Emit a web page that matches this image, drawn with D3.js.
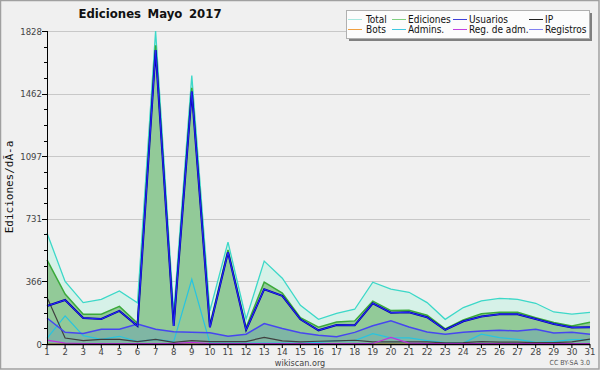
<!DOCTYPE html>
<html><head><meta charset="utf-8">
<script src="https://cdn.jsdelivr.net/npm/d3@7"></script>
<style>body{margin:0;background:#fff}svg{display:block}</style>
</head><body>
<svg id="c" width="600" height="370"></svg>
<script>
const days = d3.range(1, 32);
const total     = [648,365,242,261,310,240,1828,185,1568,193,595,146,484,384,226,144,179,203,361,320,302,242,144,213,252,267,261,238,187,174,185];
const ediciones = [491,292,174,174,220,121,1744,115,1496,112,550,96,361,297,154,98,129,135,250,195,197,168,88,140,176,185,185,154,125,105,127];
const usuarios  = [222,257,152,146,193,105,1716,105,1474,98,536,82,320,281,144,80,111,109,238,183,185,156,82,133,160,174,174,146,117,96,98];
const ip        = [273,35,20,27,27,14,27,10,20,14,14,14,39,18,12,16,18,22,12,12,12,12,6,8,14,11,11,8,8,12,29];
const bots      = [0,0,0,0,0,0,0,0,0,0,0,0,0,0,0,0,0,0,0,0,0,0,0,0,0,0,0,0,0,0,0];
const admins    = [33,164,49,27,45,14,27,14,378,5,5,5,5,5,5,10,20,20,60,36,36,20,8,5,57,37,27,10,14,25,25];
const regAdm    = [23,5,3,3,3,2,3,2,10,2,2,2,3,2,2,2,3,3,3,39,5,3,2,2,2,2,2,2,2,2,3];
const registros = [152,68,62,86,86,117,86,72,68,66,45,57,119,90,66,51,43,68,107,135,99,70,57,68,76,80,76,86,64,68,57];
const yMax = 1828;
const legendLabels = [["Total","Ediciones","Usuarios","IP"],["Bots","Admins.","Reg. de adm.","Registros"]];
const legendColors = [["#a8e8e0","#80d080","#4040d8","#202020"],["#f0a040","#40c8e0","#c040e0","#8080f0"]];

const FONT = "'DejaVu Sans Condensed', 'DejaVu Sans', sans-serif";
const svg = d3.select("#c");
svg.append("rect").attr("x",0.5).attr("y",0.5).attr("width",598.5).attr("height",368.5)
  .attr("fill","#f0f0f0").attr("stroke","#a0a0a0").attr("stroke-width",1.5);

const x = d3.scaleLinear().domain([1,31]).range([47,590]);
const y = d3.scaleLinear().domain([0,yMax]).range([344,31]);

// grid
const majors = d3.range(0,6).map(i => i*yMax/5);
const minors = d3.range(0,21).map(i => i*yMax/20);
svg.append("g").selectAll("line").data(majors.slice(1)).join("line")
  .attr("x1",x(1)).attr("x2",x(31)).attr("y1",d=>Math.round(y(d))+0.5).attr("y2",d=>Math.round(y(d))+0.5)
  .attr("stroke","#c8c8c8").attr("stroke-width",1);

const area = (arr) => d3.area().x((d,i)=>x(days[i])).y0(y(0)).y1((d)=>y(d))(arr);
const line = (arr) => d3.line().x((d,i)=>x(days[i])).y(d=>y(d))(arr);

svg.append("path").attr("d",area(total)).attr("fill","#d6f1e8");
svg.append("path").attr("d",area(ediciones)).attr("fill","#92ca98");
svg.append("path").attr("d",area(registros)).attr("fill","#7fb6a4");

svg.append("path").attr("d",line(total)).attr("fill","none").attr("stroke","#3cd8c8").attr("stroke-width",1.3);
svg.append("path").attr("d",line(ediciones)).attr("fill","none").attr("stroke","#3aaa3a").attr("stroke-width",1.5);
svg.append("path").attr("d",line(admins)).attr("fill","none").attr("stroke","#28c4e0").attr("stroke-width",1.2);
svg.append("path").attr("d",line(bots)).attr("fill","none").attr("stroke","#f0a040").attr("stroke-width",1);
svg.append("path").attr("d",line(ip)).attr("fill","none").attr("stroke","#404040").attr("stroke-width",1.2);
svg.append("path").attr("d",line(regAdm)).attr("fill","none").attr("stroke","#c030e0").attr("stroke-width",1.2);
svg.append("path").attr("d",line(registros)).attr("fill","none").attr("stroke","#4646f0").attr("stroke-width",1.5);
svg.append("path").attr("d",line(usuarios)).attr("fill","none").attr("stroke","#0000a0").attr("stroke-width",2);
svg.append("path").attr("d",line(usuarios)).attr("fill","none").attr("stroke","#2828ff").attr("stroke-width",1);

// y axis
const ya = svg.append("g").attr("transform","translate(47,0)");
ya.append("line").attr("x1",0.5).attr("x2",0.5).attr("y1",y(yMax)).attr("y2",y(0)).attr("stroke","#000");
ya.selectAll("line.mi").data(minors).join("line").attr("class","mi")
  .attr("x1",-3).attr("x2",0).attr("y1",d=>Math.round(y(d))+0.5).attr("y2",d=>Math.round(y(d))+0.5).attr("stroke","#000");
ya.selectAll("line.ma").data(majors).join("line").attr("class","ma")
  .attr("x1",-5).attr("x2",0).attr("y1",d=>Math.round(y(d))+0.5).attr("y2",d=>Math.round(y(d))+0.5).attr("stroke","#000");
ya.selectAll("text").data(majors).join("text")
  .attr("x",-5).attr("y",d=>y(d)+3.5).attr("text-anchor","end")
  .attr("font-family",FONT).attr("font-size",9.5).attr("fill","#444")
  .text(d=>Math.round(d));

// x axis
const xa = svg.append("g").attr("transform","translate(0,344)");
xa.append("line").attr("x1",x(1)).attr("x2",x(31)).attr("y1",0.5).attr("y2",0.5).attr("stroke","#000").attr("stroke-width",1.5);
xa.selectAll("line.t").data(days).join("line").attr("class","t")
  .attr("x1",d=>x(d)).attr("x2",d=>x(d)).attr("y1",0).attr("y2",4).attr("stroke","#000");
xa.selectAll("text").data(days).join("text")
  .attr("x",d=>x(d)).attr("y",10.5).attr("text-anchor","middle")
  .attr("font-family",FONT).attr("font-size",9.5).attr("fill","#444")
  .text(d=>d);

// title
svg.append("text").attr("x",150).attr("y",18).attr("text-anchor","middle")
  .attr("font-family",FONT).attr("font-weight","bold").attr("font-size",13).attr("fill","#111")
  .attr("word-spacing","2.5").text("Ediciones Mayo 2017");

// y label
svg.append("text").attr("transform","translate(13,187) rotate(-90)").attr("text-anchor","middle")
  .attr("font-family","'DejaVu Sans Mono'").attr("font-size",11).attr("fill","#111")
  .text("Ediciones/dÃ-a");

svg.append("text").attr("x",300).attr("y",366).attr("text-anchor","middle")
  .attr("font-family",FONT).attr("font-size",9).attr("fill","#444").text("wikiscan.org");
svg.append("text").attr("x",590).attr("y",365).attr("text-anchor","end")
  .attr("font-family",FONT).attr("font-size",7).attr("fill","#555").text("CC BY-SA 3.0");

// legend
const lg = svg.append("g");
lg.append("rect").attr("x",349).attr("y",13).attr("width",243).attr("height",28).attr("fill","#808080");
lg.append("rect").attr("x",346.5).attr("y",10.5).attr("width",243).attr("height",28).attr("fill","#fcfcfc").attr("stroke","#b0b0b0");
const colX = [348,392,453,529];
const textX = [366,408,469,545];
legendLabels.forEach((row,r) => {
  row.forEach((lab,c) => {
    const ly = 19 + r*10;
    lg.append("line").attr("x1",colX[c]).attr("x2",colX[c]+14).attr("y1",ly+0.5).attr("y2",ly+0.5)
      .attr("stroke",legendColors[r][c]).attr("stroke-width",1);
    lg.append("text").attr("x",textX[c]).attr("y",ly+3.5)
      .attr("font-family",FONT).attr("font-size",10).attr("fill","#111")
      .text(lab);
  });
});
</script>
</body></html>
